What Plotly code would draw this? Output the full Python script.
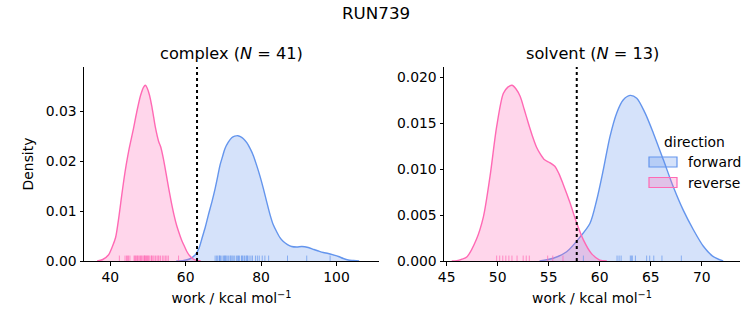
import plotly.graph_objects as go
from plotly.subplots import make_subplots

# ---------------- data ----------------
complex_rev_x = [36.5, 38.0, 39.5, 40.5, 41.4, 42.3, 43.0, 43.6, 44.2, 45.0, 46.0, 47.0, 48.0,
                 48.8, 49.3, 49.8, 50.4, 51.0, 51.5, 52.0, 52.8, 53.4, 54.1, 54.8, 55.5, 56.2,
                 56.9, 57.6, 58.2, 58.9, 59.5, 60.3, 61.0, 62.0, 63.0, 64.0]
complex_rev_y = [0.0, 0.0003, 0.0012, 0.0028, 0.0047, 0.0090, 0.0130, 0.0163, 0.0192, 0.0225,
                 0.0260, 0.0298, 0.0331, 0.0348, 0.0352, 0.0346, 0.0332, 0.0310, 0.0288, 0.0266,
                 0.0240, 0.0228, 0.0204, 0.0175, 0.0145, 0.0117, 0.0092, 0.0071, 0.0057, 0.0042,
                 0.0032, 0.0019, 0.0011, 0.0004, 0.0001, 0.0]

complex_fwd_x = [57.5, 59.5, 61.0, 62.5, 63.5, 64.3, 65.2, 66.0, 67.0, 67.8, 68.5, 69.1, 69.8,
                 70.4, 71.3, 72.2, 73.0, 73.8, 74.5, 75.3, 76.2, 77.1, 78.0, 78.8, 79.7, 80.6,
                 81.5, 82.4, 83.2, 84.1, 85.0, 85.9, 87.0, 88.1, 89.5, 90.8, 92.5, 94.0, 95.2,
                 96.5, 97.8, 99.2, 100.5, 101.8, 103.1, 104.5, 106.0]
complex_fwd_y = [0.0, 0.0001, 0.0004, 0.0012, 0.0025, 0.0045, 0.0068, 0.0092, 0.0120, 0.0145,
                 0.0170, 0.0192, 0.0210, 0.0225, 0.0238, 0.0247, 0.0250, 0.0251, 0.0249, 0.0245,
                 0.0237, 0.0225, 0.0210, 0.0192, 0.0170, 0.0145, 0.0118, 0.0092, 0.0073, 0.0059,
                 0.0047, 0.0039, 0.0033, 0.0029, 0.0028, 0.0029, 0.0027, 0.0023, 0.0020, 0.0017,
                 0.0015, 0.0012, 0.0009, 0.0005, 0.0002, 0.0001, 0.0]

solvent_rev_x = [45.5, 46.0, 46.5, 47.0, 47.9, 48.6, 49.25, 49.9, 50.55, 51.0, 51.4, 51.8, 52.2,
                 52.6, 53.0, 53.4, 53.8, 54.2, 54.6, 55.1, 55.6, 56.0, 56.4, 57.1, 57.75, 58.4,
                 59.2, 60.0, 60.7]
solvent_rev_y = [0.0, 0.00003, 0.0002, 0.00047, 0.0023, 0.0048, 0.0092, 0.0146, 0.0182, 0.0189,
                 0.0191, 0.0187, 0.0179, 0.0165, 0.0150, 0.0136, 0.0124, 0.0116, 0.0110, 0.0107,
                 0.0103, 0.0095, 0.0084, 0.0063, 0.0041, 0.0023, 0.0008, 0.0001, 0.0]

solvent_fwd_x = [54.1, 55.45, 56.76, 58.07, 59.05, 59.7, 60.35, 61.0, 61.67, 62.3, 62.97, 63.63,
                 64.44, 65.26, 66.24, 67.2, 68.2, 69.18, 70.16, 71.1, 72.1]
solvent_fwd_y = [0.0, 0.0003, 0.0010, 0.0026, 0.0041, 0.0066, 0.0099, 0.0135, 0.0161, 0.0175,
                 0.0180, 0.0177, 0.0161, 0.0139, 0.0110, 0.0081, 0.0055, 0.0034, 0.0016, 0.0005,
                 0.0]

# rug samples (individual work values)
complex_rev_samples = [42.4, 43.9, 44.3, 44.6, 44.8, 45.2, 46.3, 46.5, 46.7, 47.0, 47.2, 47.4,
                       47.7, 48.0, 48.2, 48.4, 48.7, 49.0, 49.1, 49.2, 49.4, 49.6, 49.9, 50.0,
                       50.2, 50.5, 50.9, 51.0, 51.3, 51.6, 52.0, 52.4, 52.7, 52.9, 53.3, 53.8,
                       54.2, 54.6, 55.0, 55.4, 58.1]
complex_fwd_samples = [67.8, 68.2, 68.5, 68.9, 69.0, 69.2, 69.6, 70.0, 70.3, 70.5, 70.7, 71.0,
                       71.4, 71.8, 72.0, 72.3, 72.6, 73.0, 73.5, 73.8, 74.0, 74.3, 74.8, 75.0,
                       75.2, 75.6, 76.0, 76.2, 76.4, 76.8, 77.3, 77.7, 78.5, 79.0, 79.5, 80.3,
                       81.0, 82.0, 87.0, 92.1, 98.3]
solvent_rev_samples = [50.2, 50.5, 50.8, 51.1, 51.4, 52.5, 52.8, 53.1, 54.9, 55.4, 56.4, 51.9, 49.9]
solvent_fwd_samples = [58.4, 61.7, 61.9, 62.1, 63.0, 63.2, 63.5, 64.6, 64.9, 65.3, 66.1, 68.0, 63.1]

dg_complex = 63.0
dg_solvent = 57.75

n_complex = 41
n_solvent = 13

x_ticks_complex = [40, 60, 80, 100]
x_ticks_solvent = [45, 50, 55, 60, 65, 70]
y_ticks_complex = [0.0, 0.01, 0.02, 0.03]
y_ticks_solvent = [0.0, 0.005, 0.010, 0.015, 0.020]

legend_title = "direction"
legend_labels = ["forward", "reverse"]

# ---------------- styling ----------------
BLUE = "#6495ED"
PINK = "#FF69B4"
BLUE_FILL = "rgba(100,149,237,0.27)"
PINK_FILL = "rgba(255,105,180,0.27)"
BLUE_RUG = "rgba(100,149,237,0.7)"
PINK_RUG = "rgba(255,105,180,0.7)"
FONT = "DejaVu Sans"
FS = 13.9

W, H = 753, 325
L, R, T, B = 84, 13, 67, 64
PW = W - L - R
PH = H - T - B


def px_x(p):
    return (p - L) / PW


def px_y(p):
    return 1 - (p - T) / PH


fig = make_subplots(rows=1, cols=2)


def add_kde(x, y, line, fill, name, col):
    fig.add_trace(go.Scatter(x=x, y=y, mode="lines", fill="tozeroy", fillcolor=fill,
                             line=dict(color=line, width=1.4, shape="spline", smoothing=0.8),
                             name=name, showlegend=False, hoverinfo="skip"),
                  row=1, col=col)


add_kde(complex_fwd_x, complex_fwd_y, BLUE, BLUE_FILL, legend_labels[0], 1)
add_kde(complex_rev_x, complex_rev_y, PINK, PINK_FILL, legend_labels[1], 1)
add_kde(solvent_fwd_x, solvent_fwd_y, BLUE, BLUE_FILL, legend_labels[0], 2)
add_kde(solvent_rev_x, solvent_rev_y, PINK, PINK_FILL, legend_labels[1], 2)

shapes = []
for samples, color, xr, yr in [(complex_fwd_samples, BLUE_RUG, "x", "y domain"),
                               (complex_rev_samples, PINK_RUG, "x", "y domain"),
                               (solvent_fwd_samples, BLUE_RUG, "x2", "y2 domain"),
                               (solvent_rev_samples, PINK_RUG, "x2", "y2 domain")]:
    for s in samples:
        shapes.append(dict(type="line", xref=xr, yref=yr, x0=s, x1=s, y0=0, y1=0.028,
                           line=dict(color=color, width=1)))
for dg, xr, yr in [(dg_complex, "x", "y domain"), (dg_solvent, "x2", "y2 domain")]:
    shapes.append(dict(type="line", xref=xr, yref=yr, x0=dg, x1=dg, y0=0, y1=1,
                       line=dict(color="black", width=2, dash="dot")))

# legend (drawn manually, no frame, as in the reference)
annotations = []
for i, (lab, line, fill) in enumerate(zip(legend_labels, [BLUE, PINK], [BLUE_FILL, PINK_FILL])):
    yc = 162 + 20.5 * i
    shapes.append(dict(type="rect", xref="paper", yref="paper",
                       x0=px_x(649), x1=px_x(677), y0=px_y(yc + 5), y1=px_y(yc - 5),
                       fillcolor=fill, line=dict(color=line, width=1.2)))
    annotations.append(dict(text=lab, xref="paper", yref="paper", x=px_x(686), y=px_y(yc),
                            showarrow=False, xanchor="left", yanchor="middle",
                            font=dict(family=FONT, size=FS, color="black")))
annotations.append(dict(text=legend_title, xref="paper", yref="paper", x=px_x(694), y=px_y(141.5),
                        showarrow=False, xanchor="center", yanchor="middle",
                        font=dict(family=FONT, size=FS, color="black")))

axis_common = dict(showline=True, linecolor="black", linewidth=1, mirror=False,
                   ticks="outside", ticklen=3.5, tickwidth=1, tickcolor="black",
                   showgrid=False, zeroline=False,
                   tickfont=dict(family=FONT, size=FS, color="black"))

xlabel = "work / kcal mol<sup>−1</sup>"
title_font = dict(family=FONT, size=FS, color="black")
fig.update_xaxes(**axis_common)
fig.update_yaxes(**axis_common)
fig.update_xaxes(domain=[0, px_x(379)], range=[33.02, 111.27], tickvals=x_ticks_complex,
                 title=dict(text=xlabel, standoff=9, font=title_font), row=1, col=1)
fig.update_xaxes(domain=[px_x(444), 1], range=[44.74, 73.75], tickvals=x_ticks_solvent,
                 title=dict(text=xlabel, standoff=9, font=title_font), row=1, col=2)
fig.update_yaxes(domain=[0, 1], range=[0, 0.03886], tickvals=y_ticks_complex, tickformat=".2f",
                 title=dict(text="Density", standoff=8, font=title_font), row=1, col=1)
fig.update_yaxes(domain=[0, 1], range=[0, 0.02109], tickvals=y_ticks_solvent, tickformat=".3f",
                 row=1, col=2)

annotations += [
    dict(text="RUN739", xref="paper", yref="paper", x=px_x(376), y=px_y(13),
         showarrow=False, font=dict(family=FONT, size=16.7, color="black"),
         xanchor="center", yanchor="middle"),
    dict(text=f"complex (<i>N</i> = {n_complex})", xref="x domain", yref="paper", x=0.5,
         y=px_y(53), showarrow=False,
         font=dict(family=FONT, size=16.2, color="black"), xanchor="center", yanchor="middle"),
    dict(text=f"solvent (<i>N</i> = {n_solvent})", xref="x2 domain", yref="paper", x=0.5,
         y=px_y(53), showarrow=False,
         font=dict(family=FONT, size=16.2, color="black"), xanchor="center", yanchor="middle"),
]

fig.update_layout(
    width=W, height=H, margin=dict(l=L, r=R, t=T, b=B),
    paper_bgcolor="white", plot_bgcolor="white",
    shapes=shapes, annotations=annotations, showlegend=False,
    font=dict(family=FONT, size=FS, color="black"),
)

fig.write_html("out.html")
